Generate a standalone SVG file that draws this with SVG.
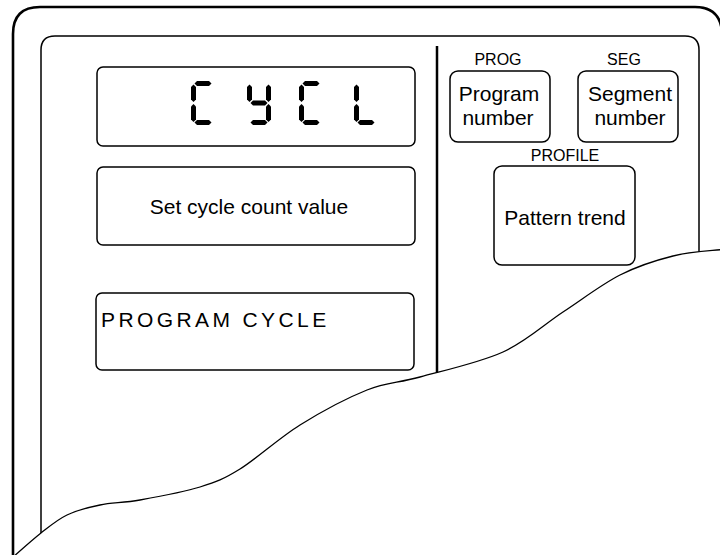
<svg xmlns="http://www.w3.org/2000/svg" width="720" height="555" viewBox="0 0 720 555">
<style>
.frame{fill:none;stroke:#000;stroke-width:2.6}
.inner{fill:none;stroke:#000;stroke-width:1.5}
.box{fill:#fff;stroke:#000;stroke-width:1.5}
.div{stroke:#000;stroke-width:2.5}
.wave{fill:#fff;stroke:#000;stroke-width:1.3}
.seg{fill:#000}
text{font-family:"Liberation Sans",Arial,sans-serif;fill:#000}
.lbl{font-size:16px;text-anchor:middle}
.txt{font-size:21px;text-anchor:middle}
.pc{font-size:21px;letter-spacing:3.4px}
</style>
<defs>
<polygon id="sa" points="3.5,2.5 6,0 18,0 20.5,2.5 18,5 6,5"/>
<polygon id="sg" points="3.5,22 6,19.5 18,19.5 20.5,22 18,24.5 6,24.5"/>
<polygon id="sd" points="3.5,41.5 6,39 18,39 20.5,41.5 18,44 6,44"/>
<polygon id="sf" points="2.5,3.5 5,6 5,18.5 2.5,21 0,18.5 0,6"/>
<polygon id="se" points="2.5,23 5,25.5 5,38.5 2.5,41 0,38.5 0,25.5"/>
<polygon id="sb" points="21.5,3.5 24,6 24,18.5 21.5,21 19,18.5 19,6"/>
<polygon id="sc" points="21.5,23 24,25.5 24,38.5 21.5,41 19,38.5 19,25.5"/>
</defs>

<g id="frame">
<path class="frame" d="M13,560 V34 Q13,7 40,7 H695 Q720,7 722,32 V300"/>
<path class="inner" d="M41,545 V50 Q41,36 55,36 H685 Q699,36 699,50 V270"/>
<line class="div" x1="437" y1="46" x2="437" y2="380"/>
</g>

<g id="display">
<rect class="box" x="97" y="67" width="318" height="79" rx="6"/>
<g class="seg" transform="translate(191,81)">
<use href="#sa"/><use href="#sf"/><use href="#se"/><use href="#sd"/>
</g>
<g class="seg" transform="translate(247,81)">
<use href="#sf"/><use href="#sb"/><use href="#sg"/><use href="#sc"/><use href="#sd"/>
</g>
<g class="seg" transform="translate(299,81)">
<use href="#sa"/><use href="#sf"/><use href="#se"/><use href="#sd"/>
</g>
<g class="seg" transform="translate(354,81)">
<use href="#sf"/><use href="#se"/><use href="#sd"/>
</g>
</g>

<g id="set-cycle">
<rect class="box" x="97" y="167" width="318" height="78" rx="6"/>
<text class="txt" x="249" y="214">Set cycle count value</text>
</g>

<g id="program-cycle">
<rect class="box" x="96" y="293" width="318" height="77" rx="6"/>
<text class="pc" x="101" y="327">PROGRAM CYCLE</text>
</g>

<g id="prog">
<text class="lbl" x="498" y="65">PROG</text>
<rect class="box" x="450" y="71" width="100" height="71" rx="8"/>
<text class="txt" x="499" y="101">Program</text>
<text class="txt" x="498" y="125">number</text>
</g>

<g id="seg">
<text class="lbl" x="624" y="65">SEG</text>
<rect class="box" x="578" y="71" width="100" height="71" rx="8"/>
<text class="txt" x="630" y="101">Segment</text>
<text class="txt" x="630" y="125">number</text>
</g>

<g id="profile">
<text class="lbl" x="565" y="161">PROFILE</text>
<rect class="box" x="494" y="166" width="141" height="99" rx="8"/>
<text class="txt" x="565" y="225">Pattern trend</text>
</g>

<g id="connectors">
<path class="wave" d="M722,249.5 C713.8,250.6 690,251.75 673,256 C656,260.25 638.3,265.7 620,275 C601.7,284.3 582.5,299.2 563,312 C543.5,324.8 526.8,341.2 503,352 C479.2,362.8 442.7,370.7 420,377 C397.3,383.3 387,382 367,390 C347,398 321.2,411.8 300,425 C278.8,438.2 256.7,458.7 240,469 C223.3,479.3 216.7,481.8 200,487 C183.3,492.2 156.7,497 140,500 C123.3,503 112.2,502.5 100,505 C87.8,507.5 76.8,510.3 67,515 C57.2,519.7 50.2,525.8 41,533 C31.8,540.2 16.8,553.8 12,558 L725,560 L725,249 Z"/>
</g>
</svg>
